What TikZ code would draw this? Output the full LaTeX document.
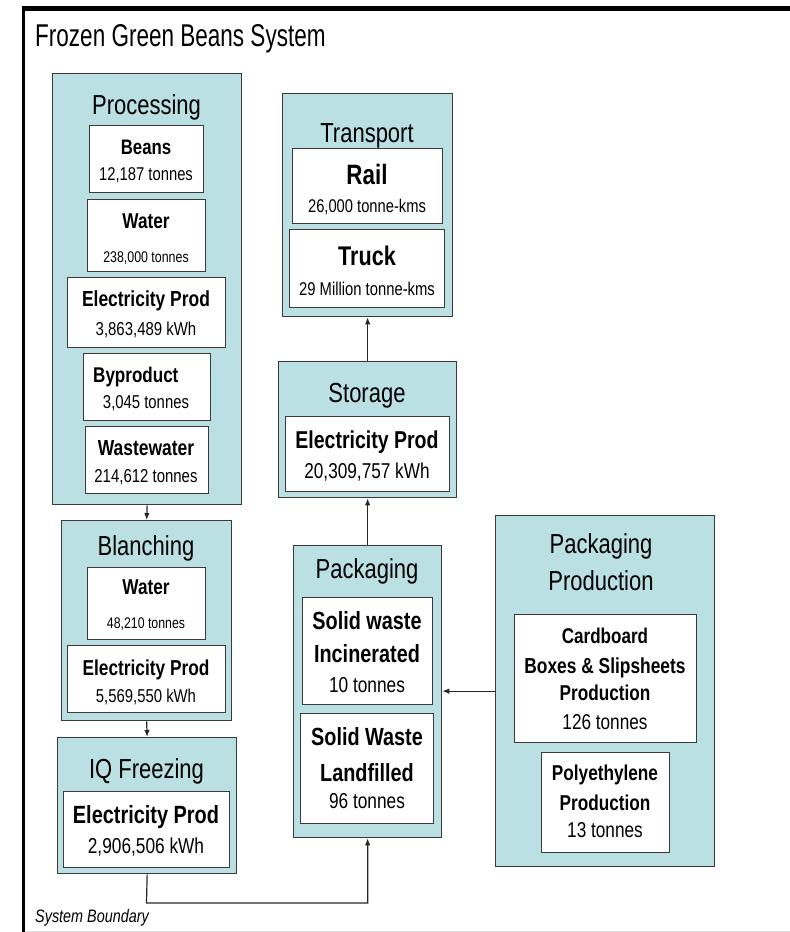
\documentclass[tikz,border=0pt]{standalone}
\usepackage{fontspec}
\setmainfont{Liberation Sans}[FakeStretch=0.8]
\newfontfamily\titlefont{Liberation Sans}[FakeStretch=0.715]
\usetikzlibrary{arrows.meta}
\definecolor{boxfill}{HTML}{BAE0E3}
\definecolor{bordergray}{HTML}{3A3A3A}
\newcommand\fsz[1]{\fontsize{#1}{#1}\selectfont}
\newcommand\mkbox[6]{\node[#1, minimum width={#4-#2}, minimum height={#5-#3}] (#6) at (#2,#3) {};}
\tikzset{
  grp/.style={draw=bordergray, fill=boxfill, line width=1.3pt, inner sep=0pt, anchor=north west},
  item/.style={draw=bordergray, fill=white, line width=1.3pt, inner sep=0pt, anchor=north west},
  txt/.style={anchor=base, inner sep=0pt, text=black},
  gtitle/.style={txt, font=\fsz{27.5}},
  arr/.style={draw=black!85, line width=1.2pt, -{Latex[length=7pt,width=5.5pt]}},
}
\begin{document}
\begin{tikzpicture}[x=1pt, y=-1pt]
\useasboundingbox (0,0) rectangle (790,932);
% frame
\draw[line width=5pt] (21.5,8) -- (790,8);
\draw[line width=3.5pt] (23.5,6) -- (23.5,932);
\draw[gray!25, line width=1pt] (25,931) -- (790,931);
\node[txt, anchor=base west, font=\titlefont\fsz{31.5}] (title) at (35,46) {Frozen Green Beans System};
\node[txt, anchor=base west, font=\fsz{18}\itshape] (sysb) at (35,922) {System Boundary};

% Processing
\mkbox{grp}{52}{73}{241}{504}{proc}
\node[gtitle] (proct) at (146.5,114) {Processing};
\mkbox{item}{89}{125}{203}{192}{beans}
\node[txt, font=\fsz{21}\bfseries] (beans1) at (146,154) {Beans};
\node[txt, font=\fsz{18.5}] (beans2) at (146,180) {12,187 tonnes};
\mkbox{item}{87}{199}{205}{271}{pwater}
\node[txt, font=\fsz{21.5}\bfseries] (pwater1) at (146,228) {Water};
\node[txt, font=\fsz{15.5}] (pwater2) at (146,262) {238,000 tonnes};
\mkbox{item}{67}{277}{225}{347}{pelec}
\node[txt, font=\fsz{21.8}\bfseries] (pelec1) at (146,306) {Electricity Prod};
\node[txt, font=\fsz{18.7}] (pelec2) at (146,335) {3,863,489 kWh};
\mkbox{item}{83}{353}{210}{420}{byp}
\node[txt, anchor=base west, font=\fsz{21.3}\bfseries] (byp1) at (93,382) {Byproduct};
\node[txt, font=\fsz{18.6}] (byp2) at (146,408) {3,045 tonnes};
\mkbox{item}{85}{426}{208}{493}{wastew}
\node[txt, font=\fsz{21.8}\bfseries] (wastew1) at (146,455) {Wastewater};
\node[txt, font=\fsz{18.7}] (wastew2) at (146,482) {214,612 tonnes};

% Blanching
\mkbox{grp}{61}{520}{231}{720}{blanch}
\node[gtitle] (blancht) at (146,555) {Blanching};
\mkbox{item}{87}{567}{205}{639}{bwater}
\node[txt, font=\fsz{21.5}\bfseries] (bwater1) at (146,594) {Water};
\node[txt, font=\fsz{15.4}] (bwater2) at (146,628) {48,210 tonnes};
\mkbox{item}{67}{645}{225}{712}{belec}
\node[txt, font=\fsz{21.6}\bfseries] (belec1) at (146,675) {Electricity Prod};
\node[txt, font=\fsz{18.6}] (belec2) at (146,702) {5,569,550 kWh};

% IQ Freezing
\mkbox{grp}{57}{737}{236}{873}{iq}
\node[gtitle] (iqt) at (146.5,778) {IQ Freezing};
\mkbox{item}{63}{791}{229}{867}{iqelec}
\node[txt, font=\fsz{24.9}\bfseries] (iqelec1) at (146,823) {Electricity Prod};
\node[txt, font=\fsz{21.6}] (iqelec2) at (146,853) {2,906,506 kWh};

% Transport
\mkbox{grp}{282}{93}{452}{316}{trans}
\node[gtitle] (transt) at (367,142) {Transport};
\mkbox{item}{292}{148}{442}{223}{rail}
\node[txt, font=\fsz{28}\bfseries] (rail1) at (367,184) {Rail};
\node[txt, font=\fsz{18.4}] (rail2) at (367,212) {26,000 tonne-kms};
\mkbox{item}{289}{229}{444}{307}{truck}
\node[txt, font=\fsz{27}\bfseries] (truck1) at (367,265) {Truck};
\node[txt, font=\fsz{18.5}] (truck2) at (367,295) {29 Million tonne-kms};

% Storage
\mkbox{grp}{278}{361}{456}{497}{stor}
\node[gtitle] (stort) at (367,402) {Storage};
\mkbox{item}{285}{416}{449}{491}{selec}
\node[txt, font=\fsz{24.4}\bfseries] (selec1) at (367,448) {Electricity Prod};
\node[txt, font=\fsz{21.5}] (selec2) at (367,478) {20,309,757 kWh};

% Packaging
\mkbox{grp}{293}{545}{441}{837}{pack}
\node[gtitle] (packt) at (367,578) {Packaging};
\mkbox{item}{302}{597}{432}{704}{incin}
\node[txt, font=\fsz{24.8}\bfseries] (incin1) at (367,629) {Solid waste};
\node[txt, font=\fsz{24.8}\bfseries] (incin2) at (367,662) {Incinerated};
\node[txt, font=\fsz{21.6}] (incin3) at (367,692) {10 tonnes};
\mkbox{item}{300}{713}{433}{823}{landf}
\node[txt, font=\fsz{24.8}\bfseries] (landf1) at (367,745) {Solid Waste};
\node[txt, font=\fsz{24.8}\bfseries] (landf2) at (367,781) {Landfilled};
\node[txt, font=\fsz{21.6}] (landf3) at (367,808) {96 tonnes};

% Packaging Production
\mkbox{grp}{495}{515}{714}{866}{pprod}
\node[gtitle] (pprodt1) at (601,553) {Packaging};
\node[gtitle] (pprodt2) at (601,590) {Production};
\mkbox{item}{514}{614}{696}{742}{card}
\node[txt, font=\fsz{21.3}\bfseries] (card1) at (605,643) {Cardboard};
\node[txt, font=\fsz{21.7}\bfseries] (card2) at (605,673) {Boxes \& Slipsheets};
\node[txt, font=\fsz{21.5}\bfseries] (card3) at (605,700) {Production};
\node[txt, font=\fsz{21.5}] (card4) at (605,729) {126 tonnes};
\mkbox{item}{541}{752}{669}{852}{poly}
\node[txt, font=\fsz{21.5}\bfseries] (poly1) at (605,780) {Polyethylene};
\node[txt, font=\fsz{21.5}\bfseries] (poly2) at (605,810) {Production};
\node[txt, font=\fsz{21.5}] (poly3) at (605,837) {13 tonnes};

% connectors
\draw[arr] (proc.south) -- (blanch.north);
\draw[arr] (blanch.south) -- (iq.north);
\coordinate (bend) at (146.5,903);
\draw[arr] (iq.south) -- (bend) -| (pack.south);
\draw[arr] (pack.north) -- (stor.south);
\draw[arr] (stor.north) -- (trans.south);
\draw[arr] (pprod.west) -- (pack.east |- pprod.west);
\end{tikzpicture}
\end{document}
